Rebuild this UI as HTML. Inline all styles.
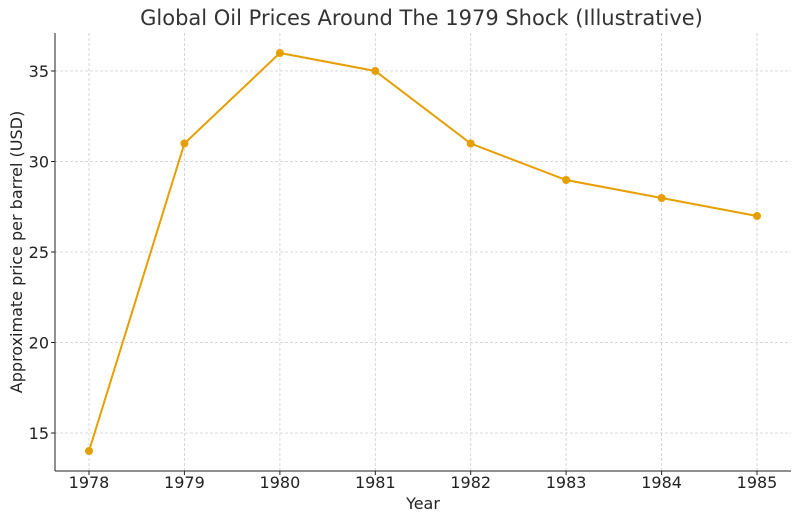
<!DOCTYPE html>
<html><head><meta charset="utf-8"><style>body{margin:0;background:#fff}svg{display:block}text{font-family:"DejaVu Sans","Liberation Sans",sans-serif;fill:#222}</style></head><body>
<svg width="800" height="522" viewBox="0 0 800 522">
<text x="421.5" y="25" font-size="21" text-anchor="middle" style="fill:#333">Global Oil Prices Around The 1979 Shock (Illustrative)</text>
<g stroke="#ccc" stroke-width="0.8" stroke-dasharray="3,2">
<line x1="89" y1="33" x2="89" y2="471"/><line x1="184.4" y1="33" x2="184.4" y2="471"/><line x1="279.9" y1="33" x2="279.9" y2="471"/><line x1="375.3" y1="33" x2="375.3" y2="471"/><line x1="470.7" y1="33" x2="470.7" y2="471"/><line x1="566.1" y1="33" x2="566.1" y2="471"/><line x1="661.6" y1="33" x2="661.6" y2="471"/><line x1="757" y1="33" x2="757" y2="471"/>
<line x1="55" y1="433" x2="791" y2="433"/><line x1="55" y1="342.5" x2="791" y2="342.5"/><line x1="55" y1="252" x2="791" y2="252"/><line x1="55" y1="161.5" x2="791" y2="161.5"/><line x1="55" y1="71" x2="791" y2="71"/>
</g>
<g stroke="#222" stroke-width="1"><line x1="55" y1="33" x2="55" y2="471"/><line x1="55" y1="471" x2="791" y2="471"/>
<line x1="89" y1="471" x2="89" y2="475"/><line x1="184.4" y1="471" x2="184.4" y2="475"/><line x1="279.9" y1="471" x2="279.9" y2="475"/><line x1="375.3" y1="471" x2="375.3" y2="475"/><line x1="470.7" y1="471" x2="470.7" y2="475"/><line x1="566.1" y1="471" x2="566.1" y2="475"/><line x1="661.6" y1="471" x2="661.6" y2="475"/><line x1="757" y1="471" x2="757" y2="475"/>
<line x1="51" y1="433" x2="55" y2="433"/><line x1="51" y1="342.5" x2="55" y2="342.5"/><line x1="51" y1="252" x2="55" y2="252"/><line x1="51" y1="161.5" x2="55" y2="161.5"/><line x1="51" y1="71" x2="55" y2="71"/></g>
<g font-size="16" text-anchor="middle"><text x="89" y="488">1978</text><text x="184.4" y="488">1979</text><text x="279.9" y="488">1980</text><text x="375.3" y="488">1981</text><text x="470.7" y="488">1982</text><text x="566.1" y="488">1983</text><text x="661.6" y="488">1984</text><text x="757" y="488">1985</text></g>
<g font-size="16" text-anchor="end"><text x="49" y="439">15</text><text x="49" y="348.5">20</text><text x="49" y="258">25</text><text x="49" y="167.5">30</text><text x="49" y="77">35</text></g>
<text x="423" y="509" font-size="16" text-anchor="middle">Year</text>
<text transform="translate(22,252) rotate(-90)" font-size="16" text-anchor="middle">Approximate price per barrel (USD)</text>
<polyline fill="none" stroke="#E69F00" stroke-width="2" points="89,451 184.4,143.5 279.9,53 375.3,71 470.7,143.5 566.1,180 661.6,198 757,216"/>
<g fill="#E69F00"><circle cx="89" cy="451" r="4"/><circle cx="184.4" cy="143.5" r="4"/><circle cx="279.9" cy="53" r="4"/><circle cx="375.3" cy="71" r="4"/><circle cx="470.7" cy="143.5" r="4"/><circle cx="566.1" cy="180" r="4"/><circle cx="661.6" cy="198" r="4"/><circle cx="757" cy="216" r="4"/></g>
</svg></body></html>
